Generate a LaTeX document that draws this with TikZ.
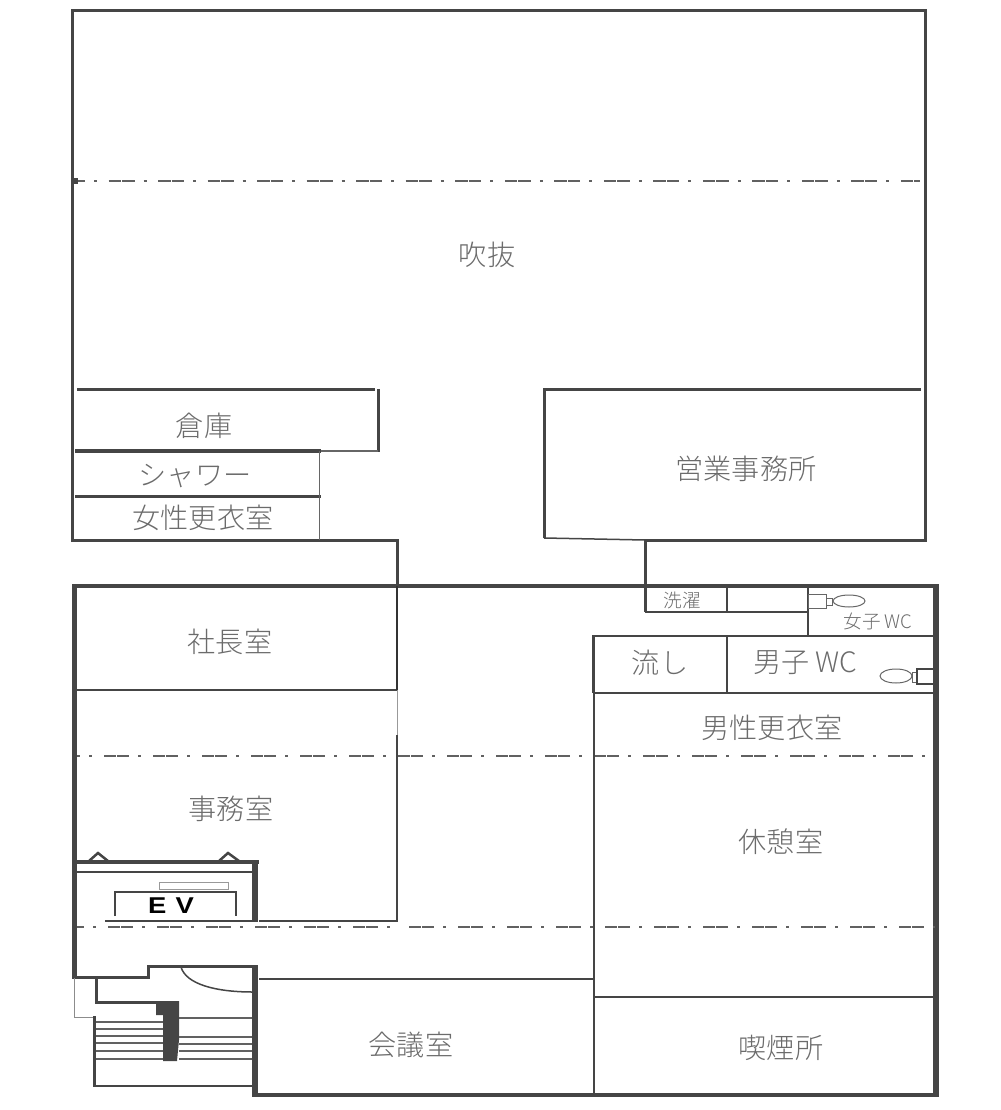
\documentclass[tikz,border=0pt]{standalone}
\usepackage{fontspec}
\newfontfamily\jpfont{Noto Sans CJK JP Light}
\newfontfamily\evfont{Liberation Sans}
\tikzset{
	wall/.style={line width=0.3mm, color=black!73},
	thinwall/.style={line width=0.15mm, color=black!73},
	hairwall/.style={line width=0.1mm, color=black!60},
	stepline/.style={line width=0.15mm, color=black!62},
	centreline/.style={line width=0.15mm, color=black!62, dash pattern=on 0.12cm off 0.01cm on 0.12cm off 0.09cm on 0.03cm off 0.12cm},
	roomlabel/.style={font=\jpfont\fontsize{8}{10}\selectfont, color=black!58, inner sep=0pt},
	smalllabel/.style={font=\jpfont\fontsize{5.3}{6}\selectfont, color=black!58, inner sep=0pt}
}
\begin{document}
\begin{tikzpicture}[x=0.01cm, y=-0.01cm]
	%%%%% START %%%%%
	\useasboundingbox (0, 0) rectangle (1000, 1110);
	
	% upper floor
	\draw[wall] (397, 586) -- (397, 540) -- (72, 540) -- (72, 11) -- (925, 11) -- (925, 540) -- (645, 540) -- (645, 612);
	\draw[thinwall] (645, 540) -- (544, 538);
	\draw[wall] (544, 538) -- (544, 390) -- (921, 390);
	\draw[centreline, dash pattern=on 0.125cm off 0.01cm on 0.125cm off 0.09cm on 0.03cm off 0.115cm, dash phase=0.16cm] (75, 181) -- (920, 181);
	\draw[fill=black!73, draw=none] (73, 178) rectangle (78, 184);
	
	\draw[wall] (77, 390) -- (375, 390);
	\draw[wall] (378, 389) -- (378, 452);
	\draw[hairwall] (320, 451) -- (378, 451);
	\draw[wall] (75, 451) -- (321, 451);
	\draw[wall] (75, 496) -- (321, 496);
	\draw[hairwall] (319, 451) -- (319, 540);
	
	% lower floor
	\draw[line width=0.4mm, color=black!73] (72, 586) -- (938, 586);
	\draw[line width=0.6mm, color=black!73] (936, 584) -- (936, 1097);
	\draw[line width=0.4mm, color=black!73] (253, 1095) -- (938, 1095);
	\draw[line width=0.5mm, color=black!73] (74, 584) -- (74, 979);
	\draw[line width=0.3mm, color=black!73] (72, 977) -- (148, 977) -- (148, 966) -- (257, 966);
	\draw[line width=0.6mm, color=black!73] (255, 965) -- (255, 1097);
	
	% president room and office
	\draw[thinwall] (77, 690) -- (397, 690);
	\draw[thinwall, color=black!80] (397, 586) -- (397, 690);
	\draw[hairwall, color=black!40] (397, 690) -- (397, 735);
	\draw[thinwall] (397, 735) -- (397, 922);
	\draw[thinwall] (259, 921) -- (397, 921);
	\draw[centreline, dash phase=0.22cm] (77, 756) -- (935, 756);
	\draw[centreline, dash phase=0.18cm] (77, 927) -- (397, 927);
	\draw[centreline, dash phase=0.37cm] (397, 927) -- (935, 927);
	
	% elevator
	\draw[line width=0.4mm, color=black!73] (72, 862) -- (259, 862);
	\draw[thinwall] (76, 872) -- (253, 872);
	\draw[line width=0.6mm, color=black!73] (255, 860) -- (255, 922);
	\draw[thinwall] (105, 921) -- (253, 921);
	\draw[thinwall] (115, 916) -- (115, 892) -- (236, 892) -- (236, 916);
	\draw[line width=0.1mm, color=black!40] (159, 882) rectangle (228, 889);
	\draw[line width=0.25mm, color=black!73] (89, 861) -- (98, 853) -- (108, 861);
	\draw[line width=0.25mm, color=black!73] (219, 861) -- (228, 853) -- (239, 861);
	\node[font=\evfont\bfseries\fontsize{6.5}{7}\selectfont, inner sep=0pt, xscale=1.2] (evlabel) at (171, 906) {E\,\,V};
	
	% stairs
	\draw[line width=0.1mm, color=black!45] (74, 978) -- (74, 1017) -- (95, 1017);
	\draw[wall] (94, 1016) -- (94, 1087);
	\draw[thinwall] (94, 1086) -- (253, 1086);
	\draw[wall] (96, 978) -- (96, 1002) -- (157, 1002);
	\draw[fill=black!73, draw=none] (156, 1001) -- (179, 1001) -- (179, 1040) -- (177, 1061) -- (163, 1061) -- (163, 1015) -- (156, 1015) -- cycle;
	\foreach \y in {1022, 1029, 1036, 1043, 1051, 1059}
		\draw[stepline] (96, \y) -- (163, \y);
	\foreach \y in {1018, 1037, 1044, 1051, 1059}
		\draw[stepline] (179, \y) -- (252, \y);
	\draw[thinwall] (181, 967) .. controls (186, 984) and (215, 992) .. (253, 992);
	
	% meeting room, smoking room
	\draw[thinwall] (259, 979) -- (593, 979);
	\draw[line width=0.2mm, color=black!73] (594, 693) -- (594, 1095);
	\draw[thinwall] (594, 997) -- (933, 997);
	
	% toilets
	\draw[wall] (593, 635) -- (593, 693);
	\draw[thinwall] (593, 636) -- (933, 636);
	\draw[thinwall] (593, 693) -- (933, 693);
	\draw[thinwall] (727, 636) -- (727, 693);
	\draw[thinwall] (645, 612) -- (808, 612);
	\draw[thinwall] (727, 587) -- (727, 612);
	\draw[thinwall] (808, 587) -- (808, 636);
	
	\draw[hairwall] (808, 594) rectangle (826, 608);
	\draw[hairwall] (826, 598) rectangle (832, 605);
	\draw[hairwall] (849, 601) ellipse (16 and 6);
	\draw[hairwall] (896, 676) ellipse (16 and 7);
	\draw[hairwall] (912, 672) rectangle (917, 682);
	\draw[thinwall] (917, 669) rectangle (934, 684);
	
	% rooms
	\node[roomlabel] (fukinuke) at (487, 255) {吹抜};
	\node[roomlabel] (souko) at (204, 426) {倉庫};
	\node[roomlabel] (shower) at (195, 476) {シャワー};
	\node[roomlabel] (womenlocker) at (203, 518) {女性更衣室};
	\node[roomlabel] (sales) at (746, 469) {営業事務所};
	\node[roomlabel] (president) at (230, 642) {社長室};
	\node[roomlabel] (office) at (231, 809) {事務室};
	\node[roomlabel] (sink) at (660, 663) {流し};
	\node[roomlabel] (menwc) at (805, 663) {男子 WC};
	\node[smalllabel] (womenwc) at (878, 621) {女子 WC};
	\node[smalllabel] (laundry) at (682, 600) {洗濯};
	\node[roomlabel] (menlocker) at (772, 728) {男性更衣室};
	\node[roomlabel] (rest) at (781, 842) {休憩室};
	\node[roomlabel] (meeting) at (411, 1045) {会議室};
	\node[roomlabel] (smoking) at (781, 1048) {喫煙所};
	
	%%%%% END %%%%%
\end{tikzpicture}
\end{document}
